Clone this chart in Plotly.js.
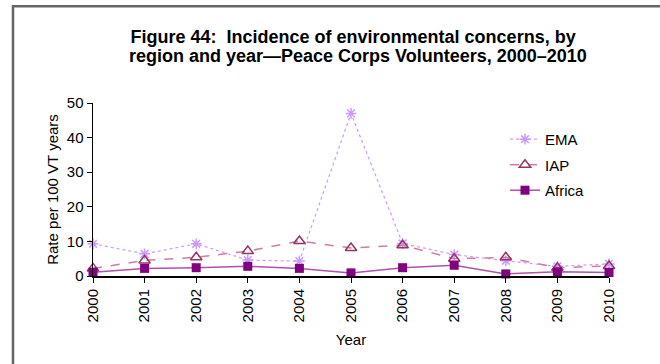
<!DOCTYPE html>
<html>
<head>
<meta charset="utf-8">
<script src="https://cdn.plot.ly/plotly-3.0.1.min.js"></script>
<style>
  html, body { margin: 0; padding: 0; background: #fff; }
  #chart { width: 660px; height: 364px; }
</style>
</head>
<body>
<div id="chart"></div>
<script>
const years = [2000, 2001, 2002, 2003, 2004, 2005, 2006, 2007, 2008, 2009, 2010];
const yearLabels = ["2000", "2001", "2002", "2003", "2004", "2005", "2006", "2007", "2008", "2009", "2010"];
const ema = [9.3, 6.4, 9.3, 4.6, 4.3, 47.0, 9.4, 6.2, 4.4, 2.8, 3.5];
const iap = [2.2, 4.5, 5.4, 7.2, 10.1, 8.1, 8.9, 5.0, 5.4, 2.4, 2.9];
const africa = [1.1, 2.2, 2.4, 2.8, 2.2, 0.9, 2.4, 3.1, 0.6, 1.2, 1.0];
const yTicks = [0, 10, 20, 30, 40, 50];
const titleLine1 = "Figure 44:  Incidence of environmental concerns, by";
const titleLine2 = "region and year\u2014Peace Corps Volunteers, 2000\u20132010";

const W = 660, H = 364;
const M = { l: 93, r: 51, t: 103, b: 87.5 };
const pw = W - M.l - M.r, ph = H - M.t - M.b;
const px = v => (v - M.l) / pw;
const py = v => (H - M.b - v) / ph;

const font = "Liberation Sans, Arial, sans-serif";

const traces = [
  {
    x: years, y: ema, name: "EMA", type: "scatter", mode: "lines+markers",
    legendgroup: "a", cliponaxis: false,
    line: { color: "rgb(204,153,255)", width: 1.2, dash: "dot" },
    marker: { symbol: "asterisk-open", size: 9, color: "rgb(204,153,255)", line: { color: "rgb(190,130,255)", width: 1.5 } }
  },
  {
    x: years, y: iap, name: "IAP", type: "scatter", mode: "lines+markers",
    legendgroup: "b", cliponaxis: false,
    line: { color: "rgb(204,128,160)", width: 1.5, dash: "dash" },
    marker: { symbol: "triangle-up-open", size: 10, color: "rgb(153,51,102)", line: { color: "rgb(153,51,102)", width: 1.5 } }
  },
  {
    x: years, y: africa, name: "Africa", type: "scatter", mode: "lines+markers",
    legendgroup: "c", cliponaxis: false,
    line: { color: "rgb(176,80,176)", width: 1.5 },
    marker: { symbol: "square", size: 9, color: "rgb(128,0,128)" }
  }
];

const layout = {
  width: W, height: H,
  margin: M,
  paper_bgcolor: "#fff", plot_bgcolor: "#fff",
  font: { family: font, size: 15, color: "#000" },
  title: {
    text: "<b>" + titleLine1 + "</b>",
    font: { family: font, size: 18, color: "#000" },
    x: 0.535, xref: "container", xanchor: "center",
    y: 1 - 37 / H, yref: "container", yanchor: "middle"
  },
  annotations: [
    {
      text: "<b>" + titleLine2 + "</b>",
      xref: "paper", yref: "paper",
      x: (0.543 * W - M.l) / pw, y: py(56),
      xanchor: "center", yanchor: "middle", showarrow: false,
      font: { family: font, size: 18, color: "#000" }
    }
  ],
  xaxis: {
    range: [2000, 2010],
    tickvals: years, ticktext: yearLabels, tickangle: -90,
    showline: true, linecolor: "#000", linewidth: 2,
    ticks: "outside", ticklen: 5, tickcolor: "#000",
    showgrid: false, zeroline: false,
    tickfont: { size: 15 },
    title: { text: "Year", font: { size: 15 }, standoff: 13 }
  },
  yaxis: {
    range: [0, 50],
    tickvals: yTicks,
    showline: true, linecolor: "#000", linewidth: 1.5,
    ticks: "outside", ticklen: 5, tickcolor: "#000",
    showgrid: false, zeroline: false,
    tickfont: { size: 15 },
    title: { text: "Rate per 100 VT years", font: { size: 15 }, standoff: 4 }
  },
  legend: {
    x: px(505), y: py(123), xanchor: "left", yanchor: "top",
    bgcolor: "rgba(0,0,0,0)", font: { size: 15 },
    traceorder: "grouped", tracegroupgap: 3
  },
  showlegend: true,
  shapes: [
    {
      type: "rect", xref: "paper", yref: "paper",
      x0: px(13), x1: px(700), y0: py(400), y1: py(6),
      line: { color: "#666", width: 2.5 }, fillcolor: "rgba(0,0,0,0)", layer: "above"
    }
  ]
};

Plotly.newPlot("chart", traces, layout, { staticPlot: true, displayModeBar: false });
</script>
</body>
</html>
